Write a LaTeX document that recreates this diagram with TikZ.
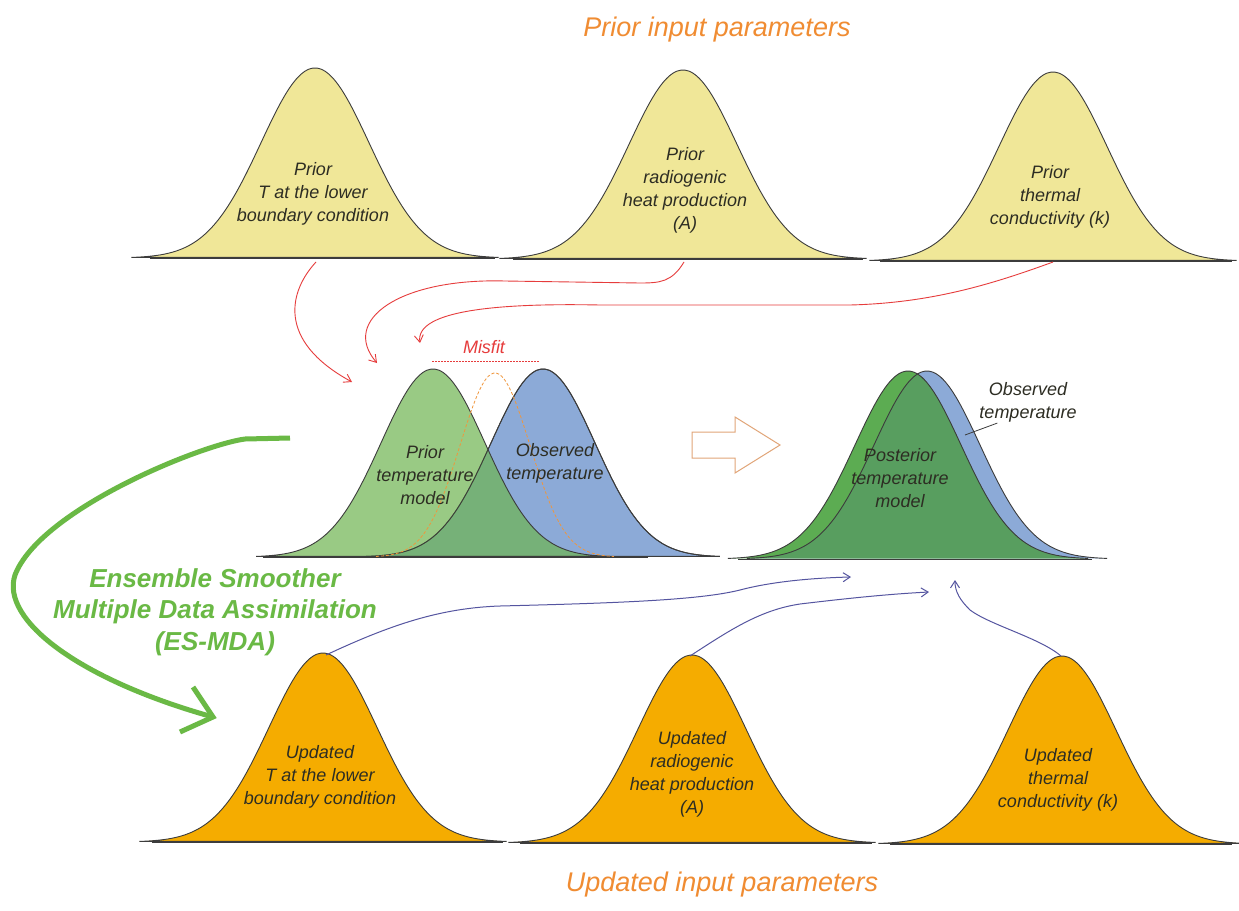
\documentclass[tikz,border=0pt]{standalone}
\usepackage{fontspec}
\setmainfont{Liberation Sans}
\usetikzlibrary{arrows.meta}
\definecolor{yel}{RGB}{240,231,152}
\definecolor{org}{RGB}{245,172,0}
\definecolor{pgreen}{RGB}{110,180,80}
\definecolor{obsblue}{RGB}{140,170,215}
\definecolor{postgreen}{RGB}{92,172,82}
\definecolor{postoverlap}{RGB}{88,158,95}
\definecolor{outl}{RGB}{60,60,60}
\definecolor{titleorange}{RGB}{240,140,50}
\definecolor{esgreen}{RGB}{106,185,69}
\definecolor{redarrow}{RGB}{230,60,60}
\definecolor{bluearrow}{RGB}{85,85,160}
\definecolor{hollow}{RGB}{225,165,120}
\definecolor{labeltext}{RGB}{45,45,35}
\definecolor{misfitorange}{RGB}{240,150,60}
% bell curve: centre x, baseline y, height, sigma
\newcommand\bellpath[4]{plot[domain=-3.4:3.4,samples=90,smooth] ({#1+#4*\x},{#2-#3*exp(-0.5*\x*\x)})}
\tikzset{
  curveline/.style={draw=outl, line width=0.9pt},
  baseline/.style={draw=outl, line width=1pt},
  lbl/.style={align=center, font=\fontsize{18}{23}\selectfont\itshape, text=labeltext, inner sep=0pt},
  ttl/.style={font=\fontsize{27}{32}\selectfont\itshape, text=titleorange, inner sep=0pt},
  esmda/.style={align=center, font=\fontsize{26}{31.5}\selectfont\bfseries\itshape, text=esgreen, inner sep=0pt},
  redcon/.style={draw=redarrow, line width=0.9pt, -{Straight Barb[length=7pt,width=9pt]}},
  bluecon/.style={draw=bluearrow, line width=1pt, -{Straight Barb[length=7pt,width=9pt]}},
}
\begin{document}
\begin{tikzpicture}[x=1pt,y=-1pt]
\useasboundingbox[fill=white] (0,0) rectangle (1239,910);

% ---------- titles ----------
\node[ttl] (toptitle) at (717,30) {Prior input parameters};
\node[ttl] (bottitle) at (722,885) {Updated input parameters};

% ---------- prior input curves ----------
\filldraw[fill=yel, curveline] \bellpath{315}{258}{190}{54} -- cycle;
\draw[baseline] (150,258) -- (495,258);
\filldraw[fill=yel, curveline] \bellpath{683}{259}{189}{54} -- cycle;
\draw[baseline] (513,259) -- (863,259);
\filldraw[fill=yel, curveline] \bellpath{1053}{261}{189}{54} -- cycle;
\draw[baseline] (880,261) -- (1232,261);
\coordinate (pb1) at (316,262);
\coordinate (pb2) at (684,262);
\coordinate (pb3) at (1053,262);
\node[lbl] (plbl1) at (313,194) {Prior\\T at the lower\\boundary condition};
\node[lbl] (plbl2) at (685,190) {Prior\\radiogenic\\heat production\\(A)};
\node[lbl] (plbl3) at (1050,197) {Prior\\thermal\\conductivity (k)};

% ---------- prior temperature vs observed ----------
\filldraw[fill=obsblue, curveline] \bellpath{543}{557}{188}{52} -- cycle;
\filldraw[fill=pgreen, fill opacity=0.7, curveline] \bellpath{433}{557}{188}{52} -- cycle;
\draw[curveline] \bellpath{543}{557}{188}{52};
\draw[draw=misfitorange, line width=0.8pt, dash pattern=on 3pt off 2pt] \bellpath{495}{557}{184}{35};
\draw[baseline] (263,557) -- (648,557);
\node[lbl] (priortemp) at (425,475) {Prior\\temperature\\model};
\node[lbl] (obstemp1) at (555,463) {Observed\\temperature};
\coordinate (mf1) at (432,361);
\coordinate (mf2) at (540,361);
\draw[draw=redarrow, line width=1pt, dash pattern=on 1.5pt off 1.5pt] (mf1) -- (mf2);
\node[font=\fontsize{18}{22}\selectfont\itshape, text=redarrow, inner sep=0pt] (misfit) at (484,347) {Misfit};
\coordinate (ra1) at (352,382);
\coordinate (ra2) at (377,363);
\coordinate (ra3) at (420,343);

% ---------- hollow arrow ----------
\draw[draw=hollow, fill=white, line width=1pt] (692,432) -- (735,432) -- (735,417) -- (780,445) -- (735,473) -- (735,458) -- (692,458) -- cycle;

% ---------- posterior ----------
\fill[obsblue] \bellpath{927}{559}{188}{53} -- cycle;
\fill[postgreen] \bellpath{908}{559}{188}{53} -- cycle;
\begin{scope}
  \clip \bellpath{927}{559}{188}{53} -- cycle;
  \fill[postoverlap] \bellpath{908}{559}{188}{53} -- cycle;
\end{scope}
\draw[curveline] \bellpath{927}{559}{188}{53};
\draw[curveline] \bellpath{908}{559}{188}{53};
\draw[baseline] (738,559) -- (1092,559);
\node[lbl] (posttemp) at (900,478) {Posterior\\temperature\\model};
\node[lbl] (obstemp2) at (1028,402) {Observed\\temperature};
\coordinate (obsleader) at (965,435);
\draw[outl, line width=0.8pt] (obstemp2.south west) ++(18,1) coordinate (ldstart) (ldstart) -- (obsleader);
\coordinate (ba1) at (851,577);
\coordinate (ba2) at (929,592);
\coordinate (ba3) at (955,580);

% ---------- updated input curves ----------
\filldraw[fill=org, curveline] \bellpath{323}{842}{189}{54} -- cycle;
\draw[baseline] (152,842) -- (503,842);
\filldraw[fill=org, curveline] \bellpath{692}{843}{188}{54} -- cycle;
\draw[baseline] (520,843) -- (872,843);
\filldraw[fill=org, curveline] \bellpath{1062}{844}{188}{54} -- cycle;
\draw[baseline] (890,844) -- (1232,844);
\coordinate (up1) at (326,655);
\coordinate (up2) at (690,656);
\coordinate (up3) at (1061,656);
\node[lbl] (ulbl1) at (320,777) {Updated\\T at the lower\\boundary condition};
\node[lbl] (ulbl2) at (692,774) {Updated\\radiogenic\\heat production\\(A)};
\node[lbl] (ulbl3) at (1058,780) {Updated\\thermal\\conductivity (k)};

% ---------- red connectors ----------
\draw[redcon] (pb1) .. controls (290,290) and (275,340) .. (ra1);
\draw[redcon] (pb2) .. controls (672,282) and (660,283) .. (640,283)
  -- (505,281) .. controls (400,278) and (340,320) .. (ra2);
\draw[redcon] (pb3) .. controls (990,285) and (930,303) .. (850,305)
  -- (600,305) .. controls (500,303) and (415,310) .. (ra3);

% ---------- blue connectors ----------
\draw[bluecon] (up1) .. controls (390,625) and (440,608) .. (500,606)
  .. controls (620,603) and (700,600) .. (740,590)
  .. controls (770,582) and (810,578) .. (ba1);
\draw[bluecon] (up2) .. controls (730,630) and (760,610) .. (800,604)
  .. controls (850,598) and (890,594) .. (ba2);
\draw[bluecon] (up3) .. controls (1040,638) and (990,625) .. (970,610)
  .. controls (960,600) and (955,592) .. (ba3);

% ---------- ES-MDA loop ----------
\coordinate (esstart) at (290,438);
\coordinate (esend) at (213,717);
\draw[esgreen, line width=5pt] (esstart) -- (245,439) .. controls (200,445) and (40,510) .. (15,575)
  .. controls (0,620) and (80,680) .. (esend);
\draw[esgreen, line width=5pt, line join=miter] (193,687) -- (esend) -- (180,732);
\node[esmda] (estext) at (215,612) {Ensemble Smoother\\Multiple Data Assimilation\\(ES-MDA)};
\end{tikzpicture}
\end{document}
